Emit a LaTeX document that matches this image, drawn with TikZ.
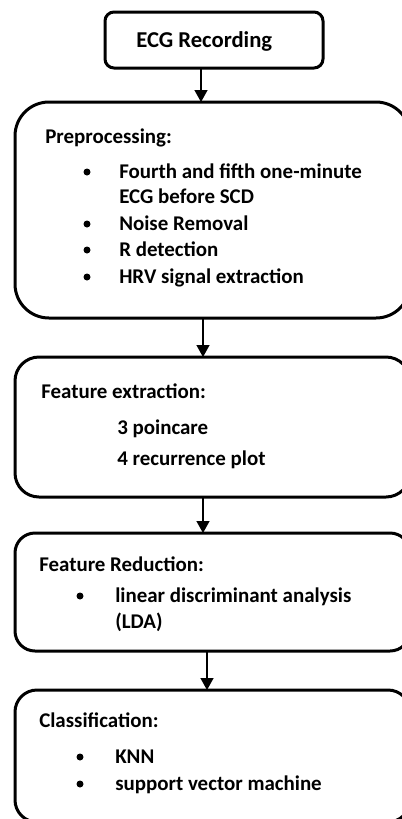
\documentclass[tikz,border=0pt]{standalone}
\usepackage{fontspec}
\setmainfont{Carlito}
\usetikzlibrary{arrows.meta}
\begin{document}
\begin{tikzpicture}[x=0.75pt,y=-0.75pt,
  stage/.style={draw, line width=2.25pt, inner sep=0pt, outer sep=0pt,
    minimum width=395*0.75pt, rounded corners=#1*0.75pt},
  stage/.default=22,
  title/.style={anchor=base west, inner sep=0pt, font=\bfseries\fontsize{17}{20}\selectfont},
  lbl/.style={anchor=base west, inner sep=0pt, font=\bfseries\fontsize{15.7}{18}\selectfont},
  dot/.style={circle, fill, inner sep=0pt, minimum size=7*0.75pt},
  arr/.style={line width=1.1pt, -{Triangle[width=13*0.75pt, length=12*0.75pt]}}]
\useasboundingbox (0,0) rectangle (402,819);
\clip (0,0) rectangle (402,819);

% stage boxes
\node[stage=9, minimum width=218*0.75pt, minimum height=56*0.75pt] (ecg) at (214,40) {};
\node[stage=34, minimum height=216*0.75pt] (pre) at (212.5,210) {};
\node[stage=24, minimum height=140*0.75pt] (fext) at (212.5,427) {};
\node[stage=20, minimum height=118*0.75pt] (fred) at (212.5,592) {};
\node[stage=22, minimum height=132*0.75pt] (cls) at (212.5,756) {};

% texts
\node[title] (ecgt) at (136,47) {ECG Recording};

\node[lbl] (pret) at (45,143) {Preprocessing:};
\node[dot] (p1) at (87,172) {};
\node[lbl] (p1t) at (119,178) {Fourth and fifth one-minute};
\node[lbl] (p1u) at (119,203) {ECG before SCD};
\node[dot] (p2) at (87,224) {};
\node[lbl] (p2t) at (119,230) {Noise Removal};
\node[dot] (p3) at (87,250) {};
\node[lbl] (p3t) at (119,256) {R detection};
\node[dot] (p4) at (87,277) {};
\node[lbl] (p4t) at (119,283) {HRV signal extraction};

\node[lbl] (fextt) at (41,398) {Feature extraction:};
\node[lbl] (f1t) at (117,434) {3 poincare};
\node[lbl] (f2t) at (117,465) {4 recurrence plot};

\node[lbl] (fredt) at (39,571) {Feature Reduction:};
\node[dot] (r1) at (80,596) {};
\node[lbl] (r1t) at (115,602) {linear discriminant analysis};
\node[lbl] (r1u) at (115,628) {(LDA)};

\node[lbl] (clst) at (39,727) {Classification:};
\node[dot] (c1) at (80,757) {};
\node[lbl] (c1t) at (115,763) {KNN};
\node[dot] (c2) at (80,784) {};
\node[lbl] (c2t) at (115,790) {support vector machine};

% connectors
\coordinate (a1) at (201,0);
\coordinate (a2) at (203,0);
\coordinate (a3) at (203,0);
\coordinate (a4) at (207,0);
\draw[arr] (ecg.south -| a1) -- (pre.north -| a1);
\draw[arr] (pre.south -| a2) -- (fext.north -| a2);
\draw[arr] (fext.south -| a3) -- (fred.north -| a3);
\draw[arr] (fred.south -| a4) -- (cls.north -| a4);
\end{tikzpicture}
\end{document}
